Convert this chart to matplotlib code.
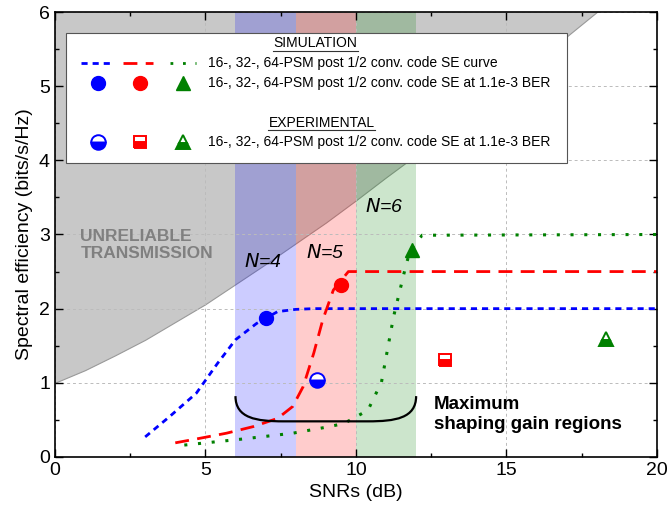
import numpy as np
import matplotlib.pyplot as plt
from matplotlib.patches import Rectangle, PathPatch
from matplotlib.path import Path

plt.rcParams['font.family'] = ['Liberation Sans', 'DejaVu Sans']

# Unreliable-transmission boundary
cap_x = [0, 1, 2, 3, 4, 5, 6, 7, 8, 9, 10, 11, 12, 13, 14, 15, 16, 17, 18, 19, 20]
cap_y = [1.0, 1.17, 1.37, 1.58, 1.82, 2.06, 2.33, 2.6, 2.88, 3.16, 3.46, 3.77,
         4.07, 4.38, 4.69, 5.01, 5.34, 5.67, 6.0, 6.33, 6.66]

# Simulated SE curves
blue_x = [3.0, 3.8, 4.7, 5.4, 6.0, 6.7, 7.4, 8.0, 8.6, 20.0]
blue_y = [0.27, 0.54, 0.86, 1.26, 1.58, 1.80, 1.96, 1.99, 2.0, 2.0]
red_x = [4.0, 4.8, 5.7, 6.6, 7.4, 7.9, 8.25, 8.6, 8.9, 9.25, 9.75, 10.0, 20.0]
red_y = [0.19, 0.25, 0.32, 0.41, 0.52, 0.68, 0.95, 1.40, 1.85, 2.25, 2.50, 2.50, 2.50]
green_x = [4.3, 6.2, 7.9, 9.0, 9.6, 10.0, 10.4, 10.85, 11.25, 11.6, 11.8, 12.2, 20.0]
green_y = [0.16, 0.24, 0.32, 0.40, 0.45, 0.54, 0.63, 1.01, 1.89, 2.48, 2.79, 2.99, 3.0]

# SE at 1.1e-3 BER
sim_x = [7.0, 9.5, 11.85]
sim_y = [1.87, 2.32, 2.79]
exp_x = [8.7, 12.95, 18.3]
exp_y = [1.04, 1.31, 1.59]

colors = ['blue', 'red', 'green']
sim_markers = ['o', 'o', '^']
exp_markers = ['o', 's', '^']
bands = [(6, 8), (8, 10), (10, 12)]
band_labels = ['4', '5', '6']
label_pos = [(6.9, 2.63), (9.0, 2.75), (10.95, 3.37)]

fig = plt.figure(figsize=(6.69, 5.24), dpi=100)
ax = fig.add_axes([0.082, 0.128, 0.9, 0.849])

ax.fill_between(cap_x, cap_y, 6.5, color='#c8c8c8', edgecolor='#999999',
                linewidth=0.8, zorder=0)
for (a, b), c in zip(bands, colors):
    ax.axvspan(a, b, color=c, alpha=0.2, linewidth=0, zorder=1)

ax.plot(blue_x, blue_y, color='blue', linestyle=(0, (2.2, 1.8)), linewidth=2, zorder=3)
ax.plot(red_x, red_y, color='red', linestyle=(0, (5, 3)), linewidth=2, zorder=3)
ax.plot(green_x, green_y, color='green', linestyle=(0, (1, 3.5)), linewidth=2.2, zorder=3)


def exp_marker(x, y, c, m, **kw):
    ax.plot(x, y, marker=m, color=c, markersize=9 if m == 's' else 10.5,
            fillstyle='bottom', markerfacecoloralt='white', markeredgewidth=1.4,
            linestyle='none', **kw)


for x, y, c, m in zip(sim_x, sim_y, colors, sim_markers):
    ax.plot(x, y, marker=m, color=c, markersize=10, linestyle='none', zorder=4)
for x, y, c, m in zip(exp_x, exp_y, colors, exp_markers):
    exp_marker(x, y, c, m, zorder=4)

for (tx, ty), t in zip(label_pos, band_labels):
    ax.text(tx, ty, '$N$=' + t, fontsize=14, ha='center', va='center', style='italic',
            zorder=5)

ax.text(0.85, 2.86, 'UNRELIABLE\nTRANSMISSION', fontsize=12.5, fontweight='bold',
        color='#808080', ha='left', va='center', linespacing=1.2, zorder=2)
ax.text(12.6, 0.57, 'Maximum\nshaping gain regions', fontsize=13.5, fontweight='bold',
        ha='left', va='center', linespacing=1.2, zorder=5)

# brace under the gain regions
verts = [(6, 0.82), (6.0, 0.52), (6.7, 0.48), (7.6, 0.48),
         (10.4, 0.48),
         (11.3, 0.48), (12.0, 0.52), (12, 0.82)]
codes = [Path.MOVETO, Path.CURVE4, Path.CURVE4, Path.CURVE4,
         Path.LINETO,
         Path.CURVE4, Path.CURVE4, Path.CURVE4]
ax.add_patch(PathPatch(Path(verts, codes), facecolor='none', edgecolor='black',
                       linewidth=1.6, zorder=5))

# legend box drawn by hand
tr = ax.transAxes
ax.add_patch(Rectangle((0.018, 0.661), 0.832, 0.292, transform=tr,
                       facecolor='white', edgecolor='#555555', linewidth=0.8, zorder=6))
leg_fs = 10
ax.text(0.432, 0.930, 'SIMULATION', transform=tr, ha='center', va='center',
        fontsize=leg_fs, zorder=7)
ax.plot([0.362, 0.503], [0.912, 0.912], transform=tr, color='#333333', linewidth=0.8, zorder=7)
ax.text(0.443, 0.751, 'EXPERIMENTAL', transform=tr, ha='center', va='center',
        fontsize=leg_fs, zorder=7)
ax.plot([0.354, 0.532], [0.734, 0.734], transform=tr, color='#333333', linewidth=0.8, zorder=7)

seg_x = [(0.044, 0.097), (0.113, 0.163), (0.191, 0.235)]
styles = [(0, (2.2, 1.8)), (0, (5, 3)), (0, (1, 3.5))]
for (a, b), c, s in zip(seg_x, colors, styles):
    ax.plot([a, b], [0.885, 0.885], transform=tr, color=c, linestyle=s, linewidth=2, zorder=7)
mark_x = [0.072, 0.141, 0.213]
for x, c, m in zip(mark_x, colors, sim_markers):
    ax.plot(x, 0.840, transform=tr, marker=m, color=c, markersize=10, linestyle='none', zorder=7)
for x, c, m in zip(mark_x, colors, exp_markers):
    exp_marker(x, 0.709, c, m, transform=tr, zorder=7)
ax.text(0.255, 0.885, '16-, 32-, 64-PSM post 1/2 conv. code SE curve', transform=tr,
        va='center', fontsize=leg_fs, zorder=7)
ax.text(0.255, 0.840, '16-, 32-, 64-PSM post 1/2 conv. code SE at 1.1e-3 BER', transform=tr,
        va='center', fontsize=leg_fs, zorder=7)
ax.text(0.255, 0.709, '16-, 32-, 64-PSM post 1/2 conv. code SE at 1.1e-3 BER', transform=tr,
        va='center', fontsize=leg_fs, zorder=7)

ax.set_xlim(0, 20)
ax.set_ylim(0, 6)
ax.set_xticks([0, 5, 10, 15, 20])
ax.set_yticks([0, 1, 2, 3, 4, 5, 6])
ax.set_xticks(np.arange(2.5, 20, 5), minor=True)
ax.set_yticks(np.arange(0.5, 6, 1), minor=True)
ax.tick_params(which='both', direction='in', top=True, right=True, labelsize=14)
ax.tick_params(which='major', length=6, width=1)
ax.tick_params(which='minor', length=3, width=1)
ax.grid(which='major', color='#bbbbbb', linestyle=(0, (3, 3)), linewidth=0.7)
ax.set_axisbelow('line')
for sp in ax.spines.values():
    sp.set_linewidth(1.2)
    sp.set_zorder(8)
ax.set_xlabel('SNRs (dB)', fontsize=14)
ax.set_ylabel('Spectral efficiency (bits/s/Hz)', fontsize=14)

plt.savefig('out.png', dpi=100)
